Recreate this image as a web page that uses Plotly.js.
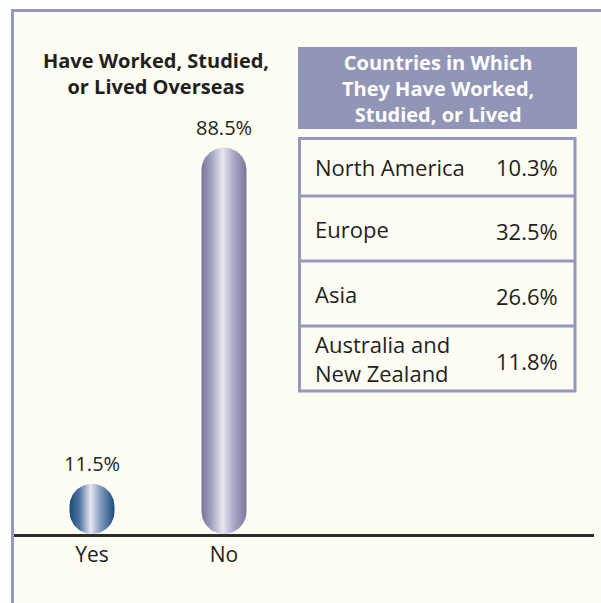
<!DOCTYPE html>
<html>
<head>
<meta charset="utf-8">
<script src="https://cdn.plot.ly/plotly-3.0.1.min.js"></script>
<style>
  html, body { margin: 0; padding: 0; background: #ffffff; }
  #chart { width: 601px; height: 603px; }
</style>
</head>
<body>
<div id="chart"></div>
<script>
// ---------------- data ----------------
const categories = ['Yes', 'No'];
const shares = [11.5, 88.5];
const chartTitle = 'Have Worked, Studied,<br>or Lived Overseas';
const tableTitle = 'Countries in Which<br>They Have Worked,<br>Studied, or Lived';
const regions = ['North America', 'Europe', 'Asia', 'Australia and<br>New Zealand'];
const regionShares = [10.3, 32.5, 26.6, 11.8];

// ---------------- geometry / style ----------------
const W = 601, H = 603;
const FONT = 'Open Sans, Noto Sans, sans-serif';
const TXT = '#231f20';
const LAV = '#9598ba';
const CREAM = '#fdfdf4';
const px = x => x / W;           // pixel -> paper x
const py = y => 1 - y / H;       // pixel -> paper y

const plotLeft = 14, plotRight = 594, plotTop = 10, plotBottom = 534;
const firstCenter = 92, pxPerCat = 132;
const xRange = [-(firstCenter - plotLeft) / pxPerCat, (plotRight - firstCenter) / pxPerCat];
const yMax = 120;
const pxPerY = (plotBottom - plotTop) / yMax;
const halfWpx = 22.5;
const hx = halfWpx / pxPerCat;
const ry = halfWpx / pxPerY;

const gradients = [
  [[0, '#1b4a7a'], [0.22, '#4f73a0'], [0.47, '#e6e8f0'], [0.7, '#7f98bb'], [1, '#1d4c7c']],
  [[0, '#77749a'], [0.22, '#a3a1bf'], [0.47, '#e8e7f0'], [0.7, '#aeacc8'], [1, '#7a779c']]
];

function capsule(c, v) {
  const r = Math.min(ry, v / 2);
  const hxe = hx * r / ry;
  const N = 48, xs = [], ys = [];
  for (let k = 0; k <= N; k++) {
    const a = Math.PI * k / N;
    xs.push(c + hxe * Math.cos(a)); ys.push(v - r + r * Math.sin(a));
  }
  for (let k = 0; k <= N; k++) {
    const a = Math.PI + Math.PI * k / N;
    xs.push(c + hxe * Math.cos(a)); ys.push(r + r * Math.sin(a));
  }
  return {xs, ys};
}

const traces = shares.map((v, i) => {
  const p = capsule(i, v);
  return {
    type: 'scatter', mode: 'lines', x: p.xs, y: p.ys,
    fill: 'toself', line: {width: 0, color: 'rgba(0,0,0,0)'},
    fillgradient: {type: 'horizontal', colorscale: gradients[i]},
    hoverinfo: 'skip', showlegend: false, name: categories[i]
  };
});

const annotations = [];
shares.forEach((v, i) => {
  annotations.push({
    xref: 'x', yref: 'y', x: i, y: v, yanchor: 'bottom', xanchor: 'center',
    yshift: 5, showarrow: false, text: v.toFixed(1) + '%',
    font: {family: FONT, size: 20, color: TXT}
  });
});

// table
const tLeft = 299.5, tRight = 575, tTop = 138.5, firstSep = 196, rowH = 65;
const tableRight = 577, headerTop = 47, headerBottom = 129;
const rowTop = i => (i === 0 ? tTop : firstSep + (i - 1) * rowH);
const rowBottom = i => firstSep + i * rowH;

annotations.push({
  xref: 'paper', yref: 'paper', x: px((298 + tableRight) / 2), y: py((headerTop + headerBottom) / 2),
  xanchor: 'center', yanchor: 'middle', showarrow: false, text: tableTitle,
  font: {family: FONT, size: 20, color: '#ffffff', weight: 'bold'}
});
regions.forEach((name, i) => {
  const cy = (rowTop(i) + rowBottom(i)) / 2;
  annotations.push({
    xref: 'paper', yref: 'paper', x: px(313), y: py(cy), xanchor: 'left', yanchor: 'middle',
    align: 'left', showarrow: false, text: name,
    font: {family: FONT, size: 22, color: TXT}
  });
  annotations.push({
    xref: 'paper', yref: 'paper', x: px(560), y: py(cy + (i === 0 ? 0 : 2)), xanchor: 'right', yanchor: 'middle',
    showarrow: false, text: regionShares[i].toFixed(1) + '%',
    font: {family: FONT, size: 22, color: TXT}
  });
});

const shapes = [
  {type: 'rect', xref: 'paper', yref: 'paper', x0: px(11), x1: px(W), y0: py(9), y1: py(H),
   fillcolor: CREAM, line: {width: 0}, layer: 'below'},
  {type: 'line', xref: 'paper', yref: 'paper', x0: px(11), x1: px(W), y0: py(10.5), y1: py(10.5),
   line: {color: LAV, width: 3}, layer: 'below'},
  {type: 'line', xref: 'paper', yref: 'paper', x0: px(12.5), x1: px(12.5), y0: py(9), y1: py(H),
   line: {color: LAV, width: 3}, layer: 'below'},
  {type: 'rect', xref: 'paper', yref: 'paper', x0: px(298), x1: px(tableRight), y0: py(headerTop), y1: py(headerBottom),
   fillcolor: '#9196b6', line: {width: 0}, layer: 'below'},
  {type: 'rect', xref: 'paper', yref: 'paper', x0: px(tLeft), x1: px(tRight), y0: py(tTop), y1: py(rowBottom(regions.length - 1)),
   fillcolor: 'rgba(0,0,0,0)', line: {color: LAV, width: 3}, layer: 'below'}
];
for (let i = 0; i < regions.length - 1; i++) {
  shapes.push({type: 'line', xref: 'paper', yref: 'paper', x0: px(tLeft), x1: px(tRight),
    y0: py(rowBottom(i)), y1: py(rowBottom(i)), line: {color: LAV, width: 3}, layer: 'below'});
}

const layout = {
  width: W, height: H,
  margin: {l: 0, r: 0, t: 0, b: 0, pad: 0},
  paper_bgcolor: '#ffffff', plot_bgcolor: 'rgba(0,0,0,0)',
  showlegend: false,
  title: {
    text: chartTitle, x: px(156), xanchor: 'center', xref: 'container',
    y: py(68), yanchor: 'top', yref: 'container',
    font: {family: FONT, size: 20, color: TXT, weight: 'bold'}
  },
  xaxis: {
    domain: [px(plotLeft), px(plotRight)], range: xRange, fixedrange: true,
    tickvals: categories.map((c, i) => i), ticktext: categories,
    showgrid: false, zeroline: false, showline: true, linecolor: '#2b2b2b', linewidth: 3,
    ticks: '', tickfont: {family: FONT, size: 21, color: TXT}, automargin: false
  },
  yaxis: {
    domain: [py(plotBottom), py(plotTop)], range: [0, yMax], fixedrange: true,
    visible: false, showgrid: false, zeroline: false
  },
  shapes: shapes,
  annotations: annotations
};

Plotly.newPlot('chart', traces, layout, {displayModeBar: false, staticPlot: true});
</script>
</body>
</html>
